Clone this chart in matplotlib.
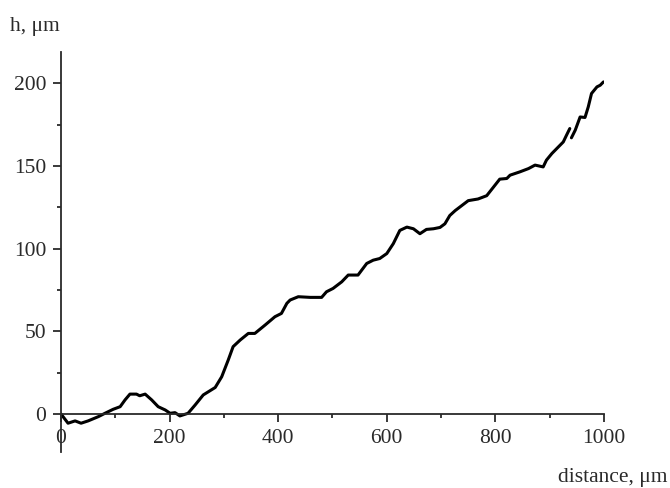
import numpy as np
import matplotlib.pyplot as plt
from matplotlib.ticker import MultipleLocator

# surface profile (nan = break in the trace)
distance = [0, 13, 26, 37, 50, 69, 81, 96, 109, 118, 127, 139, 145, 155, 167, 179,
            192, 201, 210, 219, 234, 247, 262, 284, 296, 308, 317, 330, 345, 357,
            376, 394, 406, 416, 422, 437, 459, 480, 489, 501, 517, 529, 547, 563,
            575, 587, 600, 612, 624, 637, 649, 661, 673, 686, 698, 707, 716, 726,
            738, 750, 768, 784, 796, 808, 821, 827, 845, 861, 873, 888, 894, 904,
            916, 925, 931, 937, 938.5, 940, 947, 956, 965, 971, 977, 987, 993, 999]
height = [0, -5.6, -4.2, -5.6, -4.2, -1.6, 0.4, 2.8, 4.4, 8.5, 12, 12, 11, 12, 8.5, 4.4,
          2.4, 0.4, 0.8, -1.2, 0.4, 5.4, 11.5, 16, 22.5, 32.6, 40.7, 44.7, 48.7, 48.7,
          53.8, 58.8, 60.8, 66.9, 68.9, 70.9, 70.5, 70.5, 73.9, 75.9, 79.9, 84, 84, 91,
          93, 94, 97, 103, 111, 113, 112, 109, 111.6, 112, 112.8, 115, 120, 123,
          126, 129, 130, 132, 137, 142, 142.4, 144.4, 146.4, 148.4, 150.5, 149.4, 153.5, 157.5,
          161.5, 164.5, 168.6, 172.6, np.nan, 167, 171.6, 179.6, 179.3, 185.7, 193.8, 197.8, 198.8, 200.8]

x_ticks = [0, 200, 400, 600, 800, 1000]
y_ticks = [0, 50, 100, 150, 200]

plt.rcParams['font.family'] = ['Liberation Serif', 'DejaVu Serif']
ink = '#2a2a2a'

fig = plt.figure(figsize=(6.7, 4.88), dpi=100)
ax = fig.add_axes([0.091, 0.0738, 0.8105, 0.820])

ax.plot(distance, height, color='black', lw=2.2,
        solid_capstyle='round', solid_joinstyle='round')

ax.set_xlim(0, 1000)
ax.set_ylim(-23, 219)
ax.set_xticks(x_ticks)
ax.set_yticks(y_ticks)
ax.xaxis.set_minor_locator(MultipleLocator(100))
ax.yaxis.set_minor_locator(MultipleLocator(25))

ax.spines['top'].set_visible(False)
ax.spines['right'].set_visible(False)
ax.spines['bottom'].set_position(('data', 0))
for s in ['left', 'bottom']:
    ax.spines[s].set_color(ink)
    ax.spines[s].set_linewidth(1.3)

ax.tick_params(which='major', direction='out', length=5.5, width=1.3, color=ink,
               labelsize=15.5, labelcolor=ink, pad=5)
ax.tick_params(which='minor', direction='out', length=3, width=1.3, color=ink)

fig.text(0.015, 0.946, 'h, \u03bcm', fontsize=15.5, color=ink, ha='left', va='center')
fig.text(0.997, 0.013, 'distance, \u03bcm', fontsize=15.5, color=ink, ha='right', va='baseline')

fig.savefig('out.png', dpi=100, facecolor='white')
